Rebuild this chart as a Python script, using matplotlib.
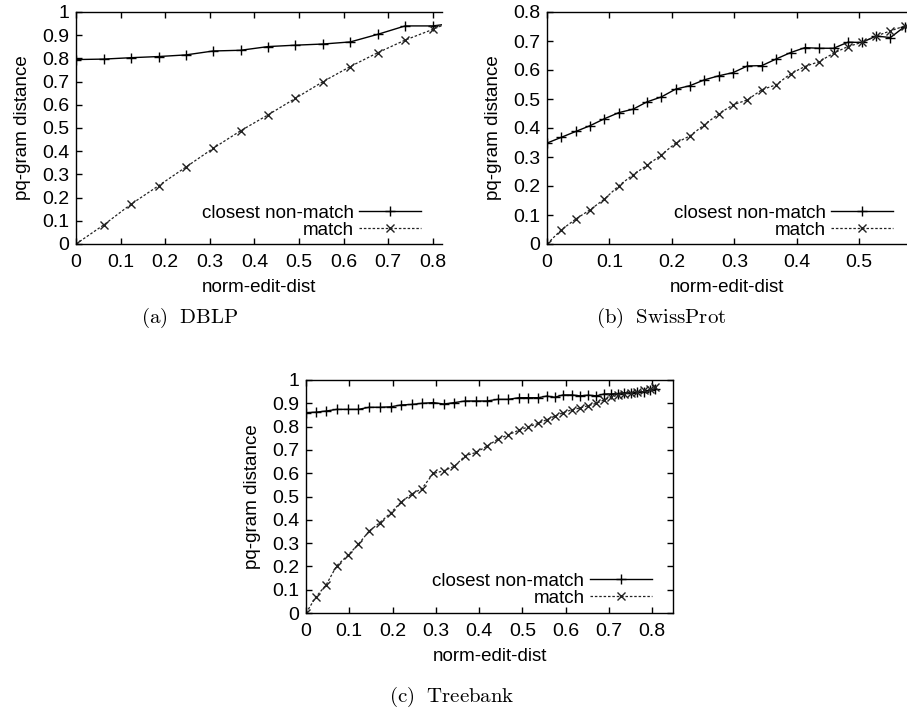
import matplotlib
matplotlib.use('Agg')
import matplotlib.pyplot as plt

plt.rcParams['font.family'] = ['Liberation Sans', 'DejaVu Sans']
plt.rcParams['mathtext.fontset'] = 'cm'

W, H = 907, 713

# (a) DBLP
dblp_x = [0, 0.062, 0.123, 0.185, 0.246, 0.308, 0.369, 0.431, 0.492, 0.554, 0.615, 0.677, 0.738, 0.8, 0.862]
dblp_nonmatch = [0.795, 0.797, 0.803, 0.808, 0.815, 0.832, 0.835, 0.851, 0.857, 0.862, 0.871, 0.904, 0.94, 0.94, 0.955]
dblp_match = [0, 0.082, 0.171, 0.251, 0.331, 0.413, 0.488, 0.557, 0.628, 0.700, 0.765, 0.825, 0.879, 0.925, 0.975]

# (b) SwissProt
swiss_x = [0, 0.023, 0.046, 0.069, 0.092, 0.115, 0.138, 0.16, 0.183, 0.206, 0.229, 0.252, 0.275,
           0.298, 0.321, 0.344, 0.367, 0.39, 0.413, 0.436, 0.459, 0.482, 0.504, 0.527, 0.55, 0.573]
swiss_nonmatch = [0.348, 0.368, 0.388, 0.408, 0.432, 0.453, 0.465, 0.490, 0.507, 0.534, 0.546, 0.566, 0.580,
                  0.591, 0.614, 0.615, 0.638, 0.660, 0.677, 0.675, 0.675, 0.696, 0.695, 0.717, 0.712, 0.750]
swiss_match = [0, 0.049, 0.086, 0.118, 0.155, 0.201, 0.239, 0.271, 0.307, 0.348, 0.373, 0.411, 0.449,
               0.480, 0.497, 0.532, 0.549, 0.587, 0.612, 0.629, 0.658, 0.681, 0.695, 0.717, 0.735, 0.752]

# (c) Treebank
tree_x = [0, 0.023, 0.047, 0.071, 0.097, 0.121, 0.146, 0.170, 0.196, 0.220, 0.244, 0.268, 0.294,
          0.318, 0.343, 0.368, 0.393, 0.418, 0.443, 0.467, 0.492, 0.514, 0.537, 0.556, 0.575,
          0.594, 0.614, 0.633, 0.652, 0.671, 0.689, 0.704, 0.72, 0.735, 0.75, 0.765, 0.78, 0.795, 0.806]
tree_nonmatch = [0.86, 0.862, 0.867, 0.874, 0.874, 0.874, 0.883, 0.883, 0.885, 0.893, 0.895, 0.900, 0.903,
                 0.897, 0.903, 0.910, 0.910, 0.910, 0.917, 0.917, 0.924, 0.924, 0.924, 0.931, 0.926,
                 0.936, 0.936, 0.932, 0.935, 0.932, 0.94, 0.94, 0.942, 0.945, 0.945, 0.948, 0.95, 0.955, 0.96]
tree_match = [0, 0.069, 0.122, 0.203, 0.248, 0.295, 0.352, 0.387, 0.430, 0.477, 0.510, 0.534, 0.599,
              0.610, 0.630, 0.675, 0.689, 0.716, 0.746, 0.764, 0.785, 0.799, 0.814, 0.83, 0.845,
              0.86, 0.872, 0.88, 0.89, 0.90, 0.915, 0.925, 0.935, 0.94, 0.945, 0.95, 0.955, 0.96, 0.968]

x_ticks_a = [0, 0.1, 0.2, 0.3, 0.4, 0.5, 0.6, 0.7, 0.8]
y_ticks_a = [0, 0.1, 0.2, 0.3, 0.4, 0.5, 0.6, 0.7, 0.8, 0.9, 1]
x_ticks_b = [0, 0.1, 0.2, 0.3, 0.4, 0.5]
y_ticks_b = [0, 0.1, 0.2, 0.3, 0.4, 0.5, 0.6, 0.7, 0.8]

FS = 13.5


def fig_rect(left, top, right, bottom):
    return [left / W, 1 - bottom / H, (right - left) / W, (bottom - top) / H]


def tick_fmt(v):
    return '0' if v == 0 else ('1' if v == 1 else f'{v:g}')


def panel(ax, x, nonmatch, match, xlim, ylim, xticks, yticks, right_frame, leg_px):
    ax.plot(x, nonmatch, color='black', lw=1.0, marker='+', ms=6.5, mew=1.0,
            label='closest non-match')
    ax.plot(x, match, color='#222222', lw=0.9, ls=(0, (2, 1.5)), marker='x', ms=6, mew=1.0,
            label='match')
    ax.set_xlim(*xlim)
    ax.set_ylim(*ylim)
    ax.set_xticks(xticks)
    ax.set_xticklabels([tick_fmt(v) for v in xticks])
    ax.set_yticks(yticks)
    ax.set_yticklabels([tick_fmt(v) for v in yticks])
    ax.tick_params(direction='in', length=4, width=1, labelsize=14, top=True, right=right_frame)
    ax.tick_params(axis='x', pad=7)
    ax.tick_params(axis='y', pad=5)
    for s in ax.spines.values():
        s.set_linewidth(1.0)
    if not right_frame:
        ax.spines['right'].set_visible(False)
    ax.set_xlabel('norm-edit-dist', fontsize=FS, labelpad=6)
    ax.set_ylabel('pq-gram distance', fontsize=FS, labelpad=8)
    ax.legend(loc='lower right', frameon=False, markerfirst=False, fontsize=FS,
              handlelength=3.3, handletextpad=0.3, labelspacing=0.0, borderpad=0,
              borderaxespad=0, bbox_to_anchor=(leg_px[0] / W, 1 - leg_px[1] / H),
              bbox_transform=fig.transFigure)


fig = plt.figure(figsize=(W / 100, H / 100), dpi=100)

ax_a = fig.add_axes(fig_rect(76, 12, 442, 244))
panel(ax_a, dblp_x, dblp_nonmatch, dblp_match, (0, 0.8206), (0, 1), x_ticks_a, y_ticks_a,
      False, (421, 239))

ax_b = fig.add_axes(fig_rect(547, 12, 907, 244))
panel(ax_b, swiss_x, swiss_nonmatch, swiss_match, (0, 0.5765), (0, 0.8), x_ticks_b, y_ticks_b,
      False, (893, 239))

ax_c = fig.add_axes(fig_rect(306, 380, 673, 613))
panel(ax_c, tree_x, tree_nonmatch, tree_match, (0, 0.848), (0, 1), x_ticks_a, y_ticks_a,
      True, (652, 607))

fig.text(190 / W, 1 - 318 / H, r'$\mathrm{(a)\ \ DBLP}$', ha='center', va='center', fontsize=15)
fig.text(661 / W, 1 - 318 / H, r'$\mathrm{(b)\ \ SwissProt}$', ha='center', va='center', fontsize=15)
fig.text(452 / W, 1 - 697 / H, r'$\mathrm{(c)\ \ Treebank}$', ha='center', va='center', fontsize=15)

fig.savefig('out.png', dpi=100)
